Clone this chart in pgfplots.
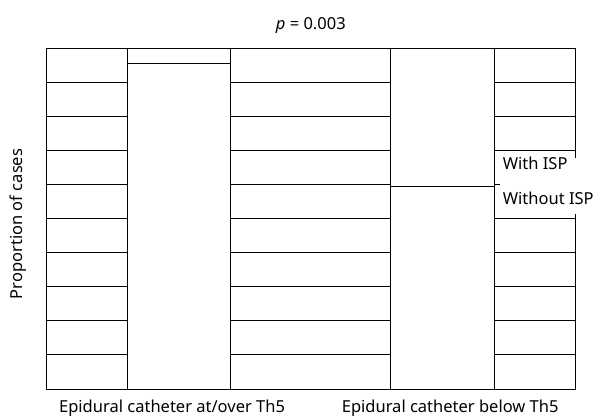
\documentclass[border=0pt]{standalone}
\usepackage{fontspec}
\setmainfont{Noto Sans}
\usepackage{pgfplots}
\pgfplotsset{compat=1.18}
\begin{document}
\fontsize{16.5bp}{20bp}\selectfont
\begin{tikzpicture}
\begin{axis}[
  scale only axis, width=529.7bp, height=341bp,
  xmin=0, xmax=1, ymin=0, ymax=1,
  clip=false,
  ybar stacked, bar width=0.196,
  ytick={0.1,0.2,0.3,0.4,0.5,0.6,0.7,0.8,0.9},
  yticklabels={},
  ymajorgrids, grid style={black, line width=0.9bp},
  major tick length=0pt,
  xtick={0.238,0.763},
  xticklabels={Epidural catheter at/over Th5, Epidural catheter below Th5},
  xticklabel style={anchor=base, yshift=-23.7bp, inner sep=0pt},
  axis line style={line width=0.9bp},
  ylabel={Proportion of cases},
  ylabel style={at={(axis description cs:-0.0529,0.484)}, anchor=center},
]
% Without ISP (bottom segment)
\addplot[fill=white, draw=black, line width=0.9bp] coordinates {(0.251,0.954) (0.749,0.595)};
% With ISP (top segment)
\addplot[fill=white, draw=black, line width=0.9bp] coordinates {(0.251,0.046) (0.749,0.405)};
\node[anchor=base west, fill=white, inner ysep=0pt, inner xsep=2.7bp, text height=11bp, text depth=17bp]
  at (axis cs:0.857,0.645) {\makebox[92bp][l]{With ISP}};
\node[anchor=base west, fill=white, inner ysep=0pt, inner xsep=2.7bp, text height=18bp, text depth=10bp]
  at (axis cs:0.857,0.5425) {\makebox[92bp][l]{Without ISP}};
\node[anchor=base, inner sep=0pt] at (axis description cs:0.5,1) [yshift=18bp] {\textit{p} = 0.003};
\end{axis}
\pgfresetboundingbox
\path (current axis.south west) ++(-46bp,-27bp) coordinate (bbA);
\path (current axis.north east) ++(19.3bp,48bp) coordinate (bbB);
\useasboundingbox (bbA) rectangle (bbB);
\end{tikzpicture}
\end{document}
